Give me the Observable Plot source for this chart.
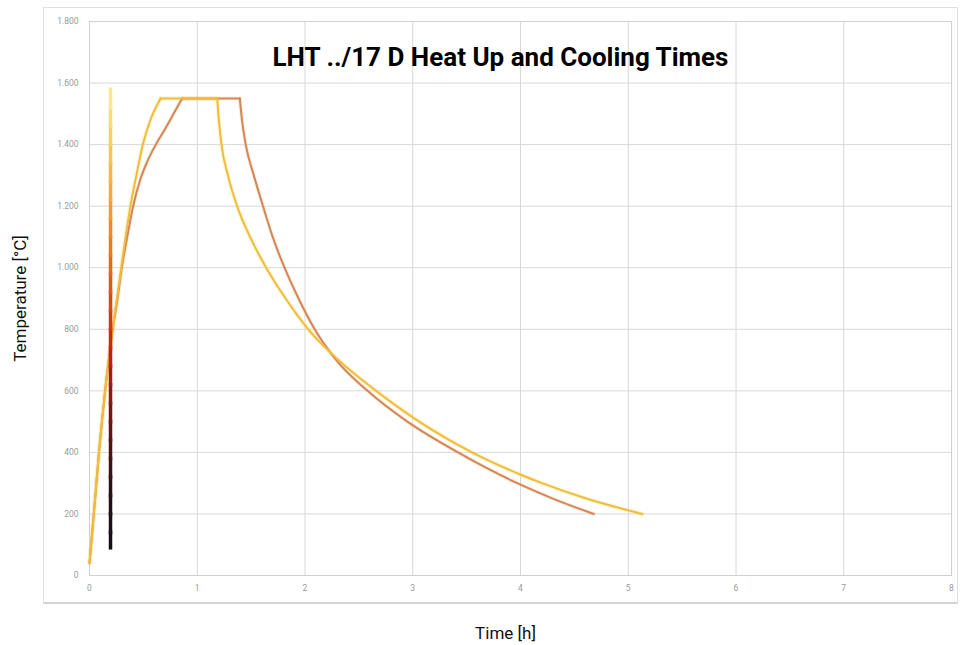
<!DOCTYPE html>
<html>
<head>
<meta charset="utf-8">
<script src="https://cdn.jsdelivr.net/npm/d3@7"></script>
<script src="https://cdn.jsdelivr.net/npm/@observablehq/plot@0.6"></script>
<style>
  html, body { margin: 0; padding: 0; background: #fff; }
  #wrap { position: relative; width: 972px; height: 645px; }
  #box { position: absolute; left: 43px; top: 7px; width: 913px; height: 594px;
         border: 1px solid #e0e0e0; border-bottom: 2px solid #d4d4d4; pointer-events: none; }
</style>
</head>
<body>
<div id="wrap"><div id="box"></div></div>
<script>
// ---- Data ----
const title = "LHT ../17 D Heat Up and Cooling Times";
const xLabel = "Time [h]";
const yLabel = "Temperature [°C]";

const xTicks = [0, 1, 2, 3, 4, 5, 6, 7, 8];
const xTickLabels = ["0", "1", "2", "3", "4", "5", "6", "7", "8"];
const yTicks = [0, 200, 400, 600, 800, 1000, 1200, 1400, 1600, 1800];
const yTickLabels = ["0", "200", "400", "600", "800", "1.000", "1.200", "1.400", "1.600", "1.800"];

// Yellow curve (faster program)
const yellowTime = [0, 0.04, 0.088, 0.145, 0.215, 0.255, 0.295, 0.335, 0.38, 0.435, 0.495, 0.565, 0.66,
  1.185, 1.198, 1.225, 1.285, 1.37, 1.49, 1.64, 1.82, 2.03, 2.31, 2.66, 3.06, 3.55, 4.02, 4.20, 4.61, 5.13];
const yellowTemp = [40, 200, 400, 600, 800, 900, 1000, 1100, 1200, 1300, 1400, 1480, 1550,
  1550, 1490, 1400, 1300, 1200, 1100, 1000, 900, 800, 700, 600, 500, 400, 325, 300, 250, 200];

// Orange curve (slower program)
const orangeTime = [0, 0.04, 0.088, 0.145, 0.215, 0.26, 0.30, 0.35, 0.405, 0.47, 0.53, 0.615, 0.70, 0.78, 0.86,
  1.395, 1.415, 1.45, 1.525, 1.61, 1.70, 1.81, 1.94, 2.09, 2.29, 2.58, 2.95, 3.42, 3.97, 4.30, 4.68];
const orangeTemp = [40, 200, 400, 600, 800, 900, 1000, 1100, 1200, 1285, 1340, 1400, 1450, 1500, 1550,
  1550, 1480, 1400, 1300, 1200, 1100, 1000, 900, 800, 700, 600, 500, 400, 300, 250, 200];

// Temperature colour bar drawn at a fixed time
const barTime = 0.195;
const barLevels = [90, 140, 200, 260, 320, 380, 440, 500, 560, 620, 680, 740, 800, 860, 920, 980,
  1040, 1100, 1160, 1220, 1280, 1340, 1400, 1460, 1520, 1580];
const barStops = [90, 300, 500, 650, 800, 1000, 1200, 1400, 1580];
const barColors = ["#120d18", "#2c0f14", "#681510", "#a81b10", "#d92a12", "#e8641e", "#f0a030", "#f6cc52", "#fbeaa6"];

// ---- Build tables: split each program into heat / hold / cool phases ----
function phases(times, temps) {
  const max = d3.max(temps);
  const a = temps.indexOf(max), b = temps.lastIndexOf(max);
  const rows = [];
  times.forEach((t, i) => {
    if (i <= a) rows.push({time: t, temp: temps[i], phase: "heat"});
    if (i >= a && i <= b) rows.push({time: t, temp: temps[i], phase: "hold"});
    if (i >= b) rows.push({time: t, temp: temps[i], phase: "cool"});
  });
  return rows;
}
const yellow = phases(yellowTime, yellowTemp);
const orange = phases(orangeTime, orangeTemp);
const barSegs = barLevels.slice(1).map((t, i) => ({t0: barLevels[i], t1: t, time: barTime}));

const font = "Roboto, 'Liberation Sans', sans-serif";
const lineOpts = {x: "time", y: "temp", z: "phase", curve: "monotone-x", strokeLinecap: "round", strokeLinejoin: "round"};

const chart = Plot.plot({
  width: 972,
  height: 645,
  marginLeft: 89,
  marginRight: 21,
  marginTop: 21,
  marginBottom: 70,
  style: {fontFamily: font, fontSize: "8.5px", color: "#9a9a9a", background: "transparent", overflow: "visible"},
  x: {domain: [0, 8], ticks: xTicks, tickFormat: (d, i) => xTickLabels[i], tickSize: 0, tickPadding: 9, label: null},
  y: {domain: [0, 1800], ticks: yTicks, tickFormat: (d, i) => yTickLabels[i], tickSize: 0, tickPadding: 11, label: null},
  color: {type: "linear", domain: barStops, range: barColors},
  marks: [
    Plot.gridY(yTicks, {stroke: "#d8d8d8", strokeOpacity: 1}),
    Plot.gridX(xTicks, {stroke: "#d8d8d8", strokeOpacity: 1}),
    Plot.frame({stroke: "#d0d0d0"}),
    Plot.line(orange, {...lineOpts, stroke: "#f3c27a", strokeWidth: 4, strokeOpacity: 0.25}),
    Plot.line(yellow, {...lineOpts, stroke: "#f7df70", strokeWidth: 4.5, strokeOpacity: 0.3}),
    Plot.line(orange, {...lineOpts, stroke: "#d3865a", strokeWidth: 2}),
    Plot.line(yellow, {...lineOpts, stroke: "#efbd3e", strokeWidth: 2}),
    Plot.link(barSegs, {x1: "time", x2: "time", y1: "t0", y2: "t1", stroke: d => (d.t0 + d.t1) / 2,
      strokeWidth: 3.5, strokeLinecap: "square"}),
    Plot.text([title], {frameAnchor: "top", lineAnchor: "middle", dx: -20, dy: 36, fontSize: 26, fontWeight: "bold",
      fill: "#000", fontFamily: font}),
    Plot.text([xLabel], {frameAnchor: "bottom", lineAnchor: "middle", dx: -15, dy: 58, fontSize: 17, fill: "#111", fontFamily: font}),
    Plot.text([yLabel], {frameAnchor: "left", textAnchor: "middle", lineAnchor: "middle", dx: -69, rotate: -90,
      fontSize: 17, fill: "#111", fontFamily: font})
  ]
});

document.getElementById("wrap").prepend(chart);
</script>
</body>
</html>
